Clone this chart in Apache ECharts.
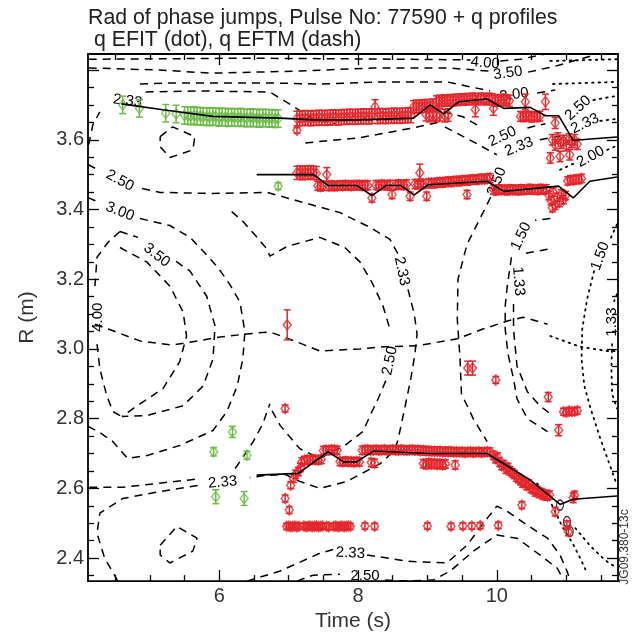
<!DOCTYPE html>
<html>
<head>
<meta charset="utf-8">
<title>Rad of phase jumps, Pulse No: 77590 + q profiles</title>
<script src="https://cdn.jsdelivr.net/npm/echarts@6/dist/echarts.min.js"></script>
<style>
  html, body { margin: 0; padding: 0; background: #fff; }
  #chart { width: 632px; height: 637px; }
</style>
</head>
<body>
<div id="chart"></div>
<script>
const FONT = '"Liberation Sans", Arial, Helvetica, sans-serif';

// ---- axis extents and ticks ----
const timeMin = 4.11, timeMax = 11.745;
const radiusMin = 2.334, radiusMax = 3.846;
const timeMajorTicks = [6, 8, 10];
const timeMinorTicks = [4.5, 5, 5.5, 6.5, 7, 7.5, 8.5, 9, 9.5, 10.5, 11, 11.5];
const radiusMajorTicks = [2.4, 2.6, 2.8, 3.0, 3.2, 3.4, 3.6, 3.8];
const radiusTickLabels = [2.4, 2.6, 2.8, 3.0, 3.2, 3.4, 3.6];
const radiusMinorTicks = [2.35, 2.45, 2.5, 2.55, 2.65, 2.7, 2.75, 2.85, 2.9, 2.95, 3.05, 3.1, 3.15,
  3.25, 3.3, 3.35, 3.45, 3.5, 3.55, 3.65, 3.7, 3.75];

// ---- phase-jump radii: [time s, R m, error m] ----
const greenUpper = [
  [4.61,3.700,0.025],[4.85,3.690,0.025],[5.23,3.676,0.025],[5.38,3.674,0.025],
  [5.50,3.670,0.025],[5.55,3.669,0.025],[5.59,3.668,0.025],[5.64,3.670,0.025],[5.68,3.667,0.025],
  [5.73,3.668,0.025],[5.77,3.666,0.025],[5.82,3.667,0.025],[5.86,3.665,0.025],[5.91,3.667,0.025],
  [5.95,3.666,0.025],[6.00,3.664,0.025],[6.04,3.666,0.025],[6.09,3.665,0.025],[6.13,3.663,0.025],
  [6.18,3.665,0.025],[6.22,3.664,0.025],[6.27,3.663,0.025],[6.31,3.665,0.025],[6.36,3.663,0.025],
  [6.40,3.662,0.025],[6.45,3.664,0.025],[6.49,3.662,0.025],[6.54,3.663,0.025],[6.58,3.661,0.025],
  [6.63,3.663,0.025],[6.67,3.662,0.025],[6.72,3.661,0.025],[6.76,3.662,0.025],[6.81,3.660,0.025],
  [6.85,3.661,0.025]
];
const greenLower = [
  [6.85,3.467,0.010],[5.92,2.705,0.012],[6.19,2.762,0.016],[6.40,2.695,0.012],
  [5.95,2.576,0.020],[6.36,2.571,0.020]
];
const redUpper = [
  [7.12,3.661,0.021],[7.16,3.662,0.021],[7.20,3.661,0.021],[7.24,3.663,0.021],[7.28,3.662,0.021],
  [7.32,3.661,0.021],[7.36,3.663,0.021],[7.40,3.662,0.021],[7.44,3.664,0.021],[7.48,3.663,0.021],
  [7.52,3.662,0.021],[7.56,3.664,0.021],[7.60,3.663,0.021],[7.64,3.665,0.021],[7.68,3.664,0.021],
  [7.72,3.663,0.021],[7.76,3.665,0.021],[7.80,3.666,0.021],[7.84,3.665,0.021],[7.88,3.667,0.021],
  [7.92,3.666,0.021],[7.96,3.665,0.021],[8.00,3.667,0.021],[8.04,3.666,0.021],[8.08,3.668,0.021],
  [8.12,3.667,0.021],[8.16,3.666,0.021],[8.20,3.668,0.021],[8.28,3.667,0.021],[8.32,3.669,0.021],
  [8.36,3.668,0.021],[8.40,3.667,0.021],[8.44,3.669,0.021],[8.48,3.668,0.021],[8.52,3.670,0.021],
  [8.56,3.669,0.021],[8.60,3.668,0.021],[8.64,3.670,0.021],[8.68,3.669,0.021],[8.72,3.671,0.021],
  [8.76,3.670,0.021],
  [8.80,3.694,0.018],[8.84,3.696,0.018],[8.88,3.695,0.018],[8.92,3.697,0.018],[8.96,3.696,0.018],
  [9.00,3.698,0.018],[9.04,3.697,0.018],[9.08,3.699,0.018],
  [8.98,3.672,0.018],[9.03,3.669,0.018],[9.08,3.674,0.018],[9.13,3.670,0.018],[9.18,3.672,0.018],
  [9.25,3.669,0.018],[9.30,3.671,0.018],
  [9.13,3.710,0.016],[9.17,3.712,0.016],[9.21,3.711,0.016],[9.25,3.713,0.016],[9.29,3.712,0.016],
  [9.33,3.714,0.016],[9.37,3.713,0.016],[9.41,3.715,0.016],[9.45,3.714,0.016],[9.49,3.716,0.016],
  [9.53,3.715,0.016],[9.57,3.717,0.016],[9.61,3.716,0.016],[9.65,3.718,0.016],[9.69,3.717,0.016],
  [9.73,3.716,0.016],[9.77,3.718,0.016],[9.81,3.717,0.016],[9.85,3.716,0.016],[9.89,3.718,0.016],
  [9.93,3.716,0.016],[9.98,3.712,0.016],[10.02,3.714,0.016],[10.06,3.713,0.016],[10.10,3.715,0.016],
  [10.14,3.713,0.016],[10.18,3.712,0.016],
  [8.245,3.695,0.02],[9.69,3.686,0.02],[9.95,3.690,0.02],[10.41,3.709,0.022],[10.70,3.709,0.022],
  [10.34,3.667,0.014],[10.38,3.666,0.014],[10.42,3.668,0.014],[10.46,3.667,0.014],[10.50,3.665,0.014],
  [10.54,3.667,0.014],[10.58,3.666,0.014],[10.62,3.668,0.014],
  [10.84,3.648,0.016],
  [10.80,3.600,0.015],[10.84,3.585,0.015],[10.88,3.605,0.015],[10.92,3.590,0.015],[10.96,3.598,0.015],
  [11.00,3.583,0.015],[11.04,3.602,0.015],[11.08,3.592,0.015],[11.12,3.600,0.015],[11.16,3.587,0.015],
  [10.77,3.548,0.015],[10.91,3.552,0.015],[11.05,3.557,0.015],
  [7.12,3.627,0.008]
];
const redMiddle = [
  [7.12,3.505,0.019],[7.16,3.506,0.019],[7.20,3.504,0.019],[7.24,3.506,0.019],[7.28,3.505,0.019],
  [7.32,3.507,0.019],[7.36,3.505,0.019],[7.40,3.504,0.019],
  [7.42,3.468,0.013],[7.46,3.466,0.013],[7.50,3.468,0.013],[7.58,3.467,0.013],[7.62,3.469,0.013],
  [7.66,3.467,0.013],[7.70,3.468,0.013],[7.74,3.469,0.013],[7.78,3.468,0.013],[7.82,3.470,0.013],
  [7.86,3.469,0.013],[7.90,3.468,0.013],[7.94,3.470,0.013],[7.98,3.469,0.013],[8.02,3.470,0.013],
  [8.06,3.468,0.013],[8.10,3.470,0.013],[8.14,3.469,0.013],[8.26,3.470,0.013],[8.30,3.469,0.013],
  [8.34,3.471,0.013],[8.38,3.470,0.013],[8.42,3.469,0.013],[8.46,3.471,0.013],[8.54,3.470,0.013],
  [8.58,3.472,0.013],[8.62,3.471,0.013],[8.66,3.470,0.013],[8.70,3.472,0.013],[8.82,3.473,0.013],
  [8.86,3.472,0.013],[8.90,3.474,0.013],[8.94,3.473,0.013],[9.02,3.475,0.013],[9.06,3.476,0.013],
  [9.10,3.475,0.013],[9.14,3.477,0.013],[9.18,3.478,0.013],[9.22,3.477,0.013],[9.26,3.479,0.013],
  [9.30,3.480,0.013],[9.34,3.479,0.013],[9.38,3.481,0.013],[9.42,3.482,0.013],[9.46,3.481,0.013],
  [9.50,3.483,0.013],[9.54,3.484,0.013],[9.58,3.483,0.013],[9.62,3.485,0.013],[9.66,3.486,0.013],
  [9.70,3.485,0.013],[9.74,3.487,0.013],[9.78,3.488,0.013],[9.82,3.487,0.013],[9.86,3.489,0.013],
  [9.90,3.490,0.013],
  [7.55,3.500,0.020],[8.20,3.433,0.012],[8.49,3.443,0.012],[8.75,3.438,0.012],[8.99,3.438,0.012],
  [9.57,3.443,0.012],[8.89,3.505,0.025],
  [9.95,3.457,0.013],[9.99,3.455,0.013],[10.03,3.458,0.013],[10.07,3.456,0.013],[10.11,3.457,0.013],
  [10.15,3.455,0.013],[10.19,3.458,0.013],[10.23,3.456,0.013],[10.27,3.457,0.013],[10.31,3.455,0.013],
  [10.35,3.458,0.013],[10.39,3.456,0.013],[10.43,3.457,0.013],[10.47,3.459,0.013],[10.51,3.457,0.013],
  [10.55,3.458,0.013],[10.59,3.456,0.013],[10.63,3.459,0.013],[10.67,3.457,0.013],[10.71,3.458,0.013],
  [10.75,3.440,0.012],[10.78,3.425,0.012],[10.81,3.450,0.012],[10.84,3.412,0.012],[10.87,3.435,0.012],
  [10.90,3.420,0.012],[10.93,3.445,0.012],[10.96,3.428,0.012],[10.99,3.440,0.012],[10.80,3.405,0.012],
  [11.02,3.482,0.012],[11.06,3.485,0.012],[11.10,3.484,0.012],[11.14,3.487,0.012],[11.18,3.486,0.012],
  [11.22,3.489,0.012]
];
const redLower = [
  [6.95,2.571,0.010],[7.01,2.538,0.010],[7.03,2.609,0.010],[7.07,2.629,0.012],[7.10,2.640,0.012],
  [7.14,2.648,0.012],[7.17,2.660,0.012],[7.19,2.676,0.012],
  [7.23,2.680,0.012],[7.27,2.682,0.012],[7.31,2.681,0.012],[7.35,2.683,0.012],[7.39,2.682,0.012],
  [7.43,2.681,0.012],[7.47,2.683,0.012],
  [7.50,2.708,0.012],[7.54,2.710,0.012],[7.58,2.709,0.012],[7.62,2.711,0.012],[7.66,2.710,0.012],
  [7.70,2.709,0.012],
  [7.74,2.677,0.012],[7.78,2.676,0.012],[7.82,2.678,0.012],[7.86,2.676,0.012],[7.90,2.677,0.012],
  [7.94,2.675,0.012],[7.98,2.677,0.012],[8.02,2.676,0.012],
  [8.06,2.709,0.012],[8.10,2.710,0.012],[8.14,2.711,0.012],[8.18,2.709,0.012],[8.22,2.710,0.012],
  [8.26,2.711,0.012],[8.30,2.709,0.012],[8.34,2.710,0.012],[8.38,2.711,0.012],[8.42,2.709,0.012],
  [8.46,2.710,0.012],[8.50,2.711,0.012],[8.54,2.710,0.012],[8.58,2.709,0.012],[8.62,2.711,0.012],
  [8.66,2.710,0.012],[8.70,2.709,0.012],[8.74,2.710,0.012],[8.78,2.711,0.012],[8.82,2.709,0.012],
  [8.86,2.710,0.012],[8.90,2.708,0.012],[8.94,2.709,0.012],[8.98,2.707,0.012],[9.02,2.708,0.012],
  [9.06,2.706,0.012],[9.10,2.707,0.012],[9.14,2.706,0.012],[9.18,2.707,0.012],[9.22,2.705,0.012],
  [9.26,2.706,0.012],[9.30,2.705,0.012],[9.34,2.706,0.012],[9.38,2.704,0.012],[9.42,2.705,0.012],
  [9.46,2.704,0.012],[9.50,2.705,0.012],[9.54,2.703,0.012],[9.58,2.704,0.012],[9.62,2.705,0.012],
  [9.66,2.703,0.012],[9.70,2.704,0.012],[9.74,2.705,0.012],[9.78,2.703,0.012],[9.82,2.704,0.012],
  [9.86,2.705,0.012],[9.90,2.704,0.012],
  [8.19,2.674,0.012],[8.24,2.672,0.012],
  [8.94,2.671,0.012],[8.98,2.668,0.012],[9.02,2.673,0.012],[9.06,2.669,0.012],[9.10,2.672,0.012],
  [9.14,2.668,0.012],[9.18,2.671,0.012],[9.22,2.667,0.012],[9.26,2.670,0.012],[9.40,2.667,0.012],
  [9.95,2.695,0.012],[9.98,2.685,0.012],[10.01,2.690,0.012],[10.04,2.675,0.012],[10.07,2.665,0.012],
  [10.10,2.668,0.012],[10.13,2.655,0.012],[10.16,2.660,0.012],[10.19,2.650,0.012],[10.22,2.645,0.012],
  [10.25,2.640,0.012],[10.28,2.632,0.012],[10.31,2.628,0.012],[10.34,2.622,0.012],[10.37,2.615,0.012],
  [10.40,2.618,0.012],[10.43,2.608,0.012],[10.46,2.612,0.012],[10.49,2.600,0.012],[10.52,2.597,0.012],
  [10.55,2.590,0.012],[10.58,2.594,0.012],[10.61,2.585,0.012],[10.64,2.588,0.012],[10.67,2.580,0.012],
  [10.70,2.583,0.012],[10.73,2.578,0.012],[10.76,2.581,0.012],
  [10.84,2.533,0.012],[10.36,2.552,0.010],[11.01,2.495,0.012],[11.03,2.476,0.012],
  [11.10,2.573,0.014],[11.12,2.580,0.012]
];
const redRow249 = [
  [6.97,2.491,0.009],[7.00,2.492,0.009],[7.03,2.490,0.009],[7.06,2.491,0.009],[7.09,2.492,0.009],
  [7.12,2.490,0.009],[7.15,2.491,0.009],[7.22,2.492,0.009],[7.25,2.490,0.009],[7.28,2.491,0.009],
  [7.31,2.492,0.009],[7.34,2.490,0.009],[7.37,2.491,0.009],[7.40,2.492,0.009],[7.43,2.490,0.009],
  [7.46,2.491,0.009],[7.49,2.492,0.009],[7.55,2.491,0.009],[7.58,2.490,0.009],[7.65,2.491,0.009],
  [7.68,2.492,0.009],[7.71,2.490,0.009],[7.74,2.491,0.009],[7.77,2.492,0.009],[7.80,2.490,0.009],
  [7.83,2.491,0.009],[7.86,2.492,0.009],[7.89,2.491,0.009],[8.10,2.492,0.009],[8.24,2.491,0.009],
  [9.00,2.492,0.009],[9.34,2.491,0.009],[9.51,2.492,0.009],[9.64,2.492,0.009],[9.76,2.493,0.009],
  [10.02,2.494,0.009]
];
const redIsolated = [
  [6.98,3.069,0.043],[6.95,2.829,0.010],[9.58,2.945,0.020],[9.65,2.945,0.020],[9.985,2.911,0.010],
  [10.74,2.862,0.013],[10.96,2.820,0.010],[11.00,2.818,0.010],[11.04,2.822,0.010],[11.08,2.820,0.010],
  [11.12,2.821,0.010],[11.16,2.823,0.010],[10.89,2.767,0.016]
];

// ---- q=const fits through the jump radii (solid) ----
const fitUpper = [[4.59,3.703],[5.19,3.686],[5.91,3.667],[6.88,3.662],[7.36,3.657],[8.03,3.657],
  [8.80,3.662],[9.04,3.700],[9.23,3.674],[9.45,3.709],[9.86,3.717],[10.10,3.690],[10.48,3.693],
  [10.70,3.669],[10.89,3.669],[11.10,3.598],[11.35,3.602],[11.73,3.608]];
const fitMiddle = [[6.54,3.500],[7.36,3.500],[7.57,3.469],[7.98,3.469],[8.20,3.440],[8.41,3.469],
  [8.61,3.469],[8.81,3.442],[9.01,3.471],[9.86,3.481],[10.10,3.452],[10.89,3.467],[11.10,3.433],
  [11.34,3.481],[11.73,3.493]];
const fitLower = [[6.54,2.638],[7.14,2.643],[7.57,2.705],[7.79,2.676],[7.98,2.676],[8.22,2.707],
  [9.04,2.700],[9.86,2.700],[10.48,2.624],[10.91,2.554],[11.10,2.569],[11.73,2.578]];

// ---- q contours from EFTM (dashed), each a list of [time, R] segments ----
const eftmQ400 = [[[4.12,3.831],[6.44,3.834],[8.61,3.831],[9.62,3.829]],
  [[10.05,3.826],[10.34,3.831],[10.70,3.846]]];
const eftmQ350 = [[[4.12,3.806],[5.15,3.800],[5.87,3.791],[7.16,3.797],[8.22,3.806],[9.28,3.806],[9.90,3.797]],
  [[10.45,3.794],[10.84,3.811],[11.35,3.840]]];
const eftmQ300 = [[[4.86,3.760],[5.33,3.763],[6.69,3.763],[7.45,3.760],[8.36,3.766],[9.28,3.766],[9.90,3.740]],
  [[10.58,3.734],[10.84,3.743]]];
const eftmQ233Top = [[[4.12,3.586],[4.18,3.643],[4.28,3.680]],
  [[4.94,3.737],[5.72,3.740],[6.73,3.737],[7.06,3.697],[7.35,3.660],[7.67,3.646]],
  [[7.24,3.591],[8.03,3.606],[8.79,3.634],[9.18,3.651]]];
const eftmQ250Right = [[[9.04,3.691],[9.51,3.666],[9.79,3.634]], [[10.44,3.634],[10.70,3.646]]];
const eftmQ233Right = [[[9.25,3.637],[9.69,3.591],[10.00,3.557]], [[10.62,3.600],[10.91,3.611]]];
const eftmIslands = [
  [[5.15,3.609],[5.33,3.637],[5.65,3.609],[5.62,3.571],[5.29,3.549],[5.15,3.580],[5.15,3.609]],
  [[5.15,2.437],[5.39,2.491],[5.68,2.457],[5.62,2.420],[5.29,2.386],[5.15,2.409],[5.15,2.437]]
];
const eftmQ233Loop = [
  [[4.11,3.529],[4.28,3.511]],
  [[4.89,3.460],[5.15,3.449],[5.87,3.446],[6.69,3.449],[7.16,3.423],[7.74,3.391],[8.17,3.349],[8.46,3.314],[8.58,3.271]],
  [[8.72,3.171],[8.81,3.100],[8.85,3.043],[8.82,2.986],[8.76,2.914],[8.68,2.837],[8.58,2.743],[8.53,2.709],
   [8.32,2.671],[7.84,2.620],[7.45,2.600],[7.16,2.620],[6.95,2.640],[6.66,2.637],[6.44,2.631]],
  [[5.65,2.626],[5.10,2.614],[4.61,2.603],[4.12,2.603]]
];
const eftmQ300Left = [
  [[4.11,3.434],[4.28,3.420]],
  [[4.86,3.374],[5.29,3.354],[5.58,3.320],[5.77,3.280],[5.98,3.234],[6.15,3.186],[6.30,3.134],[6.37,3.049],
   [6.34,2.971],[6.26,2.894],[6.11,2.820],[5.91,2.766],[5.43,2.723],[4.96,2.694],[4.68,2.686],[4.47,2.734],
   [4.28,2.760],[4.12,2.777]]
];
const eftmCore = [
  [[4.57,3.337],[4.40,3.306],[4.24,3.263],[4.21,3.180]],
  [[4.24,3.014],[4.28,2.943],[4.38,2.866],[4.47,2.820],[4.60,2.806]],
  [[4.57,3.291],[4.96,3.249],[5.29,3.180],[5.48,3.106],[5.53,3.037],[5.43,2.963],[5.19,2.886],[4.76,2.829],[4.60,2.806]],
  [[4.57,3.337],[4.83,3.320]],
  [[5.38,3.251],[5.58,3.223],[5.82,3.151],[5.94,3.066],[5.91,2.971],[5.77,2.894],[5.48,2.837],[4.96,2.809],[4.60,2.806]]
];
const eftmSaddle = [
  [[6.18,3.394],[6.34,3.366],[6.52,3.326],[6.69,3.286],[6.73,3.266],[6.98,3.294],[7.45,3.320],[7.81,3.291],
   [8.03,3.249],[8.20,3.191],[8.36,3.123],[8.45,3.063]],
  [[8.40,2.909],[8.29,2.857],[8.20,2.820],[8.07,2.763],[7.81,2.723],[7.45,2.686],[7.16,2.714],[6.88,2.780],[6.76,2.823]],
  [[6.23,2.657],[6.30,2.677],[6.49,2.734],[6.63,2.786],[6.73,2.843]]
];
const eftmBottom = [
  [[4.54,2.334],[4.35,2.400],[4.24,2.471],[4.28,2.529],[4.61,2.571],[5.10,2.589],[5.72,2.609]],
  [[6.40,2.334],[6.88,2.363],[7.45,2.414],[7.67,2.426]],
  [[8.13,2.409],[8.71,2.391],[9.28,2.386],[9.57,2.437],[9.86,2.514],[10.00,2.549],[10.15,2.534],[10.44,2.494],
   [10.73,2.457],[10.91,2.409],[11.01,2.363],[11.06,2.334]],
  [[7.12,2.334],[7.35,2.351],[7.74,2.354]],
  [[8.39,2.337],[8.71,2.334],[9.08,2.337],[9.33,2.363],[9.66,2.420],[10.00,2.466],[10.29,2.457],[10.62,2.409],
   [10.87,2.371],[10.96,2.337]]
];
const eftmRight = [
  [[10.00,3.471],[9.80,3.391],[9.57,3.300],[9.44,3.200],[9.43,3.086],[9.47,2.971],[9.49,2.871],[9.66,2.800],[9.86,2.734]],
  [[10.77,3.374],[10.55,3.369]],
  [[10.21,3.263],[10.15,3.180],[10.12,3.123],[10.12,3.057],[10.16,2.986],[10.24,2.914],[10.29,2.857],[10.44,2.800],[10.73,2.763]],
  [[10.73,3.286],[10.41,3.274]],
  [[10.24,3.129],[10.24,3.057],[10.29,2.951],[10.44,2.877],[10.62,2.837],[10.77,2.814]]
];
const eftmAxis = [[[4.21,3.071],[4.86,3.023],[5.33,3.011],[6.01,3.034],[6.40,3.043],[6.73,3.049],[7.12,3.020],
  [7.45,2.994],[8.03,3.000],[8.36,3.006],[8.85,3.009],[9.43,3.029],[9.80,3.057],[10.15,3.080],[10.38,3.091],[10.73,3.071]]];

// ---- q contours from EFIT (dotted) ----
const efitContours = [
  [[10.77,3.826],[11.73,3.831]],
  [[10.81,3.760],[11.73,3.766]],
  [[11.39,3.714],[11.73,3.726]],
  [[11.49,3.654],[11.73,3.660]],
  [[10.91,3.514],[11.10,3.531]],
  [[11.59,3.571],[11.73,3.583]],
  [[11.73,3.357],[11.62,3.309]],
  [[11.40,3.223],[11.30,3.143],[11.23,3.057],[11.22,2.971],[11.26,2.894],[11.35,2.829],[11.49,2.743],[11.68,2.637],[11.73,2.609]],
  [[11.73,3.157],[11.69,3.137]],
  [[11.66,3.014],[11.65,2.943],[11.66,2.871],[11.73,2.829]],
  [[10.77,3.037],[11.20,3.006],[11.59,2.994],[11.73,2.994]],
  [[10.58,2.614],[10.73,2.577],[10.84,2.534],[10.94,2.491],[11.09,2.443],[11.20,2.400],[11.30,2.357]],
  [[11.13,2.486],[11.35,2.434],[11.56,2.394],[11.73,2.371]]
];

// ---- contour level labels ----
const contourLabelText = ['4.00','3.50','3.00','2.33','2.50','2.33','2.50','3.00','3.50','4.00','2.33','2.50',
  '1.50','1.33','2.50','2.33','2.33','2.50','1.50','1.33','2.50','2.33','2.00'];
const contourLabelAt = [[9.83,3.820],[10.16,3.791],[10.25,3.729],[4.68,3.711],[10.08,3.609],[10.32,3.580],
  [4.57,3.483],[4.57,3.394],[5.10,3.269],[4.25,3.091],[8.63,3.223],[8.46,2.966],
  [10.35,3.323],[10.31,3.194],[10.00,3.480],[6.05,2.617],[7.89,2.414],[8.10,2.349],
  [11.49,3.266],[11.66,3.077],[11.17,3.691],[11.27,3.646],[11.35,3.551]];
const contourLabelAngle = [-5, 8, 8, -8, 25, 22, -28, -22, -38, 90, -78, 78, 65, -85, 68, 5, -3, 0, 70, 90, 42, 25, 28];

// small closed EFIT label marks near the lower-right crossing
const efitLabelRings = [[10.91,2.552],[11.01,2.505],[11.05,2.476]];

const GREEN = '#6cbb46';
const RED = '#e5262b';

function dashed(seg) {
  return { type: 'line', data: seg, showSymbol: false, symbol: 'none', silent: true, z: 1,
    lineStyle: { color: '#000', width: 1.5, type: [8, 6] } };
}
function dotted(seg) {
  return { type: 'line', data: seg, showSymbol: false, symbol: 'none', silent: true, z: 1,
    lineStyle: { color: '#000', width: 1.8, type: [1.5, 5], cap: 'round' } };
}
function solid(data) {
  return { type: 'line', data, showSymbol: false, symbol: 'none', silent: true, z: 6,
    lineStyle: { color: '#000', width: 1.6 } };
}
function errorBars(points, color) {
  return {
    type: 'custom', data: points, encode: { x: 0, y: 1 }, silent: true, z: 4,
    renderItem(params, api) {
      const t = api.value(0), r = api.value(1), e = api.value(2);
      const lo = api.coord([t, r - e]), hi = api.coord([t, r + e]);
      const w = 3.5;
      const st = { stroke: color, lineWidth: 1.5 };
      return { type: 'group', children: [
        { type: 'line', shape: { x1: lo[0], y1: lo[1], x2: hi[0], y2: hi[1] }, style: st },
        { type: 'line', shape: { x1: lo[0] - w, y1: lo[1], x2: lo[0] + w, y2: lo[1] }, style: st },
        { type: 'line', shape: { x1: hi[0] - w, y1: hi[1], x2: hi[0] + w, y2: hi[1] }, style: st }
      ] };
    }
  };
}
function markers(points, color) {
  return { type: 'scatter', data: points, encode: { x: 0, y: 1 }, silent: true, z: 5,
    symbol: 'diamond', symbolSize: [8, 10],
    itemStyle: { color: 'rgba(255,255,255,0)', borderColor: color, borderWidth: 1.5 } };
}

const series = [];
[eftmQ400, eftmQ350, eftmQ300, eftmQ233Top, eftmQ250Right, eftmQ233Right, eftmIslands, eftmQ233Loop,
 eftmQ300Left, eftmCore, eftmSaddle, eftmBottom, eftmRight, eftmAxis].forEach(c => c.forEach(s => series.push(dashed(s))));
efitContours.forEach(s => series.push(dotted(s)));
series.push({
  type: 'custom', silent: true, z: 2, encode: { x: 0, y: 1 },
  data: contourLabelAt.map((p, i) => [p[0], p[1], contourLabelAngle[i]]),
  renderItem(params, api) {
    const p = api.coord([api.value(0), api.value(1)]);
    return { type: 'text', x: p[0], y: p[1], rotation: api.value(2) * Math.PI / 180,
      style: { text: contourLabelText[params.dataIndex], font: '15px ' + FONT, fill: '#000',
        align: 'center', verticalAlign: 'middle' } };
  }
});
series.push({ type: 'scatter', data: efitLabelRings, silent: true, z: 3, symbol: 'circle', symbolSize: [7, 10],
  itemStyle: { color: 'rgba(255,255,255,0)', borderColor: '#000', borderWidth: 1.3 } });
[[greenUpper, GREEN], [greenLower, GREEN], [redUpper, RED], [redMiddle, RED], [redLower, RED],
 [redRow249, RED], [redIsolated, RED]].forEach(([pts, col]) => {
  series.push(errorBars(pts, col));
  series.push(markers(pts, col));
});
[fitUpper, fitMiddle, fitLower].forEach(d => series.push(solid(d)));

const tickLine = { color: '#000', width: 1.3 };
function xAxisDef(position, ticks, len, withLabels) {
  const ax = {
    type: 'value', position, min: timeMin, max: timeMax,
    axisLine: { show: false }, splitLine: { show: false },
    axisTick: { show: true, inside: true, length: len, customValues: ticks, lineStyle: tickLine },
    axisLabel: { show: false }
  };
  if (withLabels) {
    ax.axisLabel = { show: true, customValues: timeMajorTicks, margin: 5,
      fontSize: 20, fontFamily: FONT, color: '#333', formatter: v => String(Math.round(v)) };
    ax.name = 'Time (s)';
    ax.nameLocation = 'middle';
    ax.nameGap = 27;
    ax.nameTextStyle = { fontSize: 21, fontFamily: FONT, color: '#333' };
  }
  return ax;
}
function yAxisDef(position, ticks, len, withLabels) {
  const ax = {
    type: 'value', position, min: radiusMin, max: radiusMax,
    axisLine: { show: false }, splitLine: { show: false },
    axisTick: { show: true, inside: true, length: len, customValues: ticks, lineStyle: tickLine },
    axisLabel: { show: false }
  };
  if (withLabels) {
    ax.axisLabel = { show: true, customValues: radiusTickLabels, margin: 4,
      fontSize: 20, fontFamily: FONT, color: '#333', formatter: v => v.toFixed(1) };
    ax.name = 'R (m)';
    ax.nameLocation = 'middle';
    ax.nameGap = 50;
    ax.nameTextStyle = { fontSize: 21, fontFamily: FONT, color: '#333' };
  }
  return ax;
}

const chart = echarts.init(document.getElementById('chart'), null, { renderer: 'canvas' });
chart.setOption({
  animation: false,
  backgroundColor: '#fff',
  grid: { left: 88, right: 14, top: 54, bottom: 54, show: true, borderColor: '#000', borderWidth: 1.8,
    backgroundColor: 'rgba(0,0,0,0)' },
  xAxis: [
    xAxisDef('bottom', timeMajorTicks, 11, true),
    xAxisDef('bottom', timeMinorTicks, 6, false),
    xAxisDef('top', timeMajorTicks, 11, false),
    xAxisDef('top', timeMinorTicks, 6, false)
  ],
  yAxis: [
    yAxisDef('left', radiusMajorTicks, 11, true),
    yAxisDef('left', radiusMinorTicks, 6, false),
    yAxisDef('right', radiusMajorTicks, 11, false),
    yAxisDef('right', radiusMinorTicks, 6, false)
  ],
  graphic: [
    { type: 'text', x: 88, y: 18, silent: true,
      style: { text: 'Rad of phase jumps, Pulse No: 77590 + q profiles', font: '21.3px ' + FONT, fill: '#222',
        verticalAlign: 'middle' } },
    { type: 'text', x: 88, y: 40, silent: true,
      style: { text: ' q EFIT (dot), q EFTM (dash)', font: '21.3px ' + FONT, fill: '#222', verticalAlign: 'middle' } },
    { type: 'text', x: 625, y: 547, rotation: Math.PI / 2, silent: true,
      style: { text: 'JG09.380-13c', font: '12px ' + FONT, fill: '#333', align: 'center', verticalAlign: 'middle' } }
  ],
  series
});
</script>
</body>
</html>
